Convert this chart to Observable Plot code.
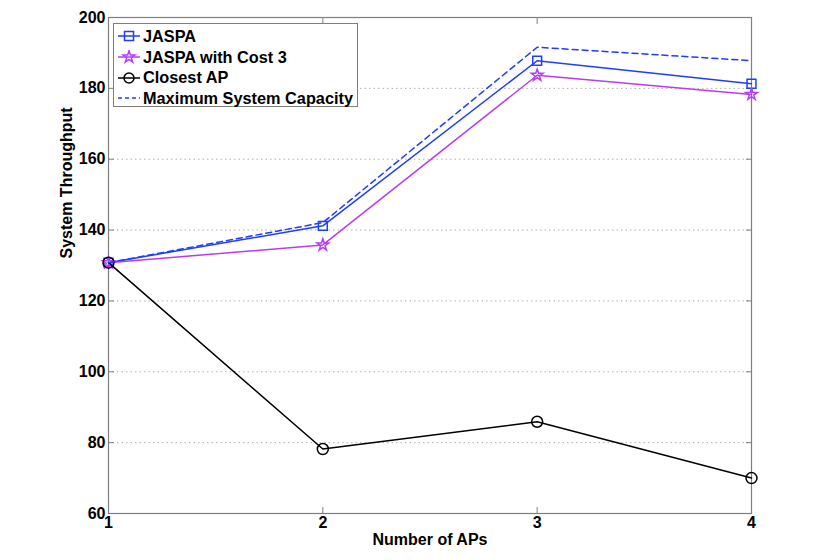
<!DOCTYPE html>
<html>
<head>
<meta charset="utf-8">
<script src="https://cdn.jsdelivr.net/npm/d3@7"></script>
<script src="https://cdn.jsdelivr.net/npm/@observablehq/plot@0.6"></script>
<style>
  html, body { margin: 0; padding: 0; background: white; }
  #wrap { position: relative; width: 830px; height: 560px; font-family: "Liberation Sans", Arial, Helvetica, sans-serif; font-weight: bold; }
  #legend { position: absolute; left: 113px; top: 23px; width: 245px; height: 84px; border: 1px solid #7f7f7f; background: white; box-sizing: border-box; padding-top: 2px; }
  .row { display: flex; align-items: center; height: 20.7px; font-size: 16.3px; color: black; }
  .row svg { margin-left: 4px; margin-right: 3px; }
</style>
</head>
<body>
<div id="wrap"></div>
<script>
const apCounts = [1, 2, 3, 4];
const jaspa = [130.8, 141.2, 187.8, 181.3];
const jaspaCost3 = [130.8, 135.8, 183.7, 178.3];
const closestAP = [130.8, 78.2, 85.9, 70.0];
const maxCapacity = [130.8, 142.1, 191.6, 187.8];
const yTicks = [60, 80, 100, 120, 140, 160, 180, 200];
const xTicks = [1, 2, 3, 4];
const seriesNames = ["JASPA", "JASPA with Cost 3", "Closest AP", "Maximum System Capacity"];
const xLabel = "Number of APs";
const yLabel = "System Throughput";

const blue = "#1f3cff";
const purple = "#b63cf7";
const black = "#000000";
const axisGray = "#7f7f7f";

const toRows = (vals) => apCounts.map((x, i) => ({x, y: vals[i]}));
const dJ = toRows(jaspa), dC = toRows(jaspaCost3), dA = toRows(closestAP), dM = toRows(maxCapacity);

const chart = Plot.plot({
  width: 830,
  height: 560,
  marginLeft: 108,
  marginRight: 79,
  marginTop: 17,
  marginBottom: 47,
  x: {domain: [1, 4]},
  y: {domain: [60, 200]},
  style: {fontFamily: "'Liberation Sans', Arial, Helvetica, sans-serif", fontWeight: "bold", fontSize: "16px", color: "black", background: "white", overflow: "visible"},
  marks: [
    Plot.gridY(yTicks.slice(1, -1), {stroke: "#b0b0b0", strokeOpacity: 1, strokeDasharray: "1.5,3"}),
    Plot.frame({stroke: axisGray, strokeWidth: 1.2}),
    Plot.axisY(yTicks, {anchor: "left", tickSize: -6, tickPadding: 9, stroke: axisGray, fill: "black", label: null, tickFormat: d => String(d), fontSize: 16}),
    Plot.axisY(yTicks, {anchor: "right", tickSize: -6, text: null, stroke: axisGray, label: null}),
    Plot.axisX(xTicks, {anchor: "bottom", tickSize: -6, tickPadding: 9, stroke: axisGray, fill: "black", label: null, tickFormat: d => String(d), fontSize: 16}),
    Plot.axisX(xTicks, {anchor: "top", tickSize: -6, text: null, stroke: axisGray, label: null}),
    Plot.line(dJ, {x: "x", y: "y", stroke: blue, strokeWidth: 1.5}),
    Plot.dot(dJ, {x: "x", y: "y", symbol: "square", r: 5, stroke: blue, strokeWidth: 1.5, fill: "none"}),
    Plot.line(dC, {x: "x", y: "y", stroke: purple, strokeWidth: 1.5}),
    Plot.dot(dC, {x: "x", y: "y", symbol: "star", r: 3.7, stroke: purple, strokeWidth: 1.5, fill: "none"}),
    Plot.line(dA, {x: "x", y: "y", stroke: black, strokeWidth: 1.5}),
    Plot.dot(dA, {x: "x", y: "y", symbol: "circle", r: 5.5, stroke: black, strokeWidth: 1.5, fill: "none"}),
    Plot.line(dM, {x: "x", y: "y", stroke: blue, strokeWidth: 1.5, strokeDasharray: "6,4"}),
    Plot.text([xLabel], {frameAnchor: "bottom", dy: 31, fontSize: 16, fontWeight: "bold", fill: "black"}),
    Plot.text([yLabel], {frameAnchor: "left", rotate: -90, dx: -42, dy: -7, fontSize: 16, fontWeight: "bold", fill: "black"})
  ]
});

const wrap = document.getElementById("wrap");
wrap.appendChild(chart);

const legend = document.createElement("div");
legend.id = "legend";
const sw = (inner) => `<svg width="22" height="14" viewBox="0 0 22 14">${inner}</svg>`;
const samples = [
  sw(`<line x1="0" y1="7" x2="22" y2="7" stroke="${blue}" stroke-width="1.5"/><rect x="6.5" y="2.5" width="9" height="9" fill="none" stroke="${blue}" stroke-width="1.5"/>`),
  sw(`<line x1="0" y1="7" x2="22" y2="7" stroke="${purple}" stroke-width="1.5"/><path d="${d3.symbol(d3.symbolStar, 3.7 * 3.7 * Math.PI)()}" transform="translate(11,7)" fill="none" stroke="${purple}" stroke-width="1.5"/>`),
  sw(`<line x1="0" y1="7" x2="22" y2="7" stroke="${black}" stroke-width="1.5"/><circle cx="11" cy="7" r="5" fill="none" stroke="${black}" stroke-width="1.5"/>`),
  sw(`<line x1="0" y1="7" x2="22" y2="7" stroke="${blue}" stroke-width="1.5" stroke-dasharray="4,3"/>`)
];
legend.innerHTML = seriesNames.map((n, i) => `<div class="row">${samples[i]}<span>${n}</span></div>`).join("");
wrap.appendChild(legend);
</script>
</body>
</html>
